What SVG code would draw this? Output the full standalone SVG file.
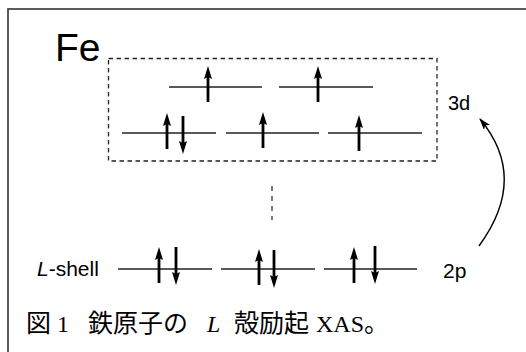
<svg xmlns="http://www.w3.org/2000/svg" xmlns:xlink="http://www.w3.org/1999/xlink" width="526" height="352" viewBox="0 0 526 352">
<style>
.lvl{stroke:#222;stroke-width:1.5;fill:none}
.shaft{stroke:#000;stroke-width:2.8;fill:none}
.lbl{font-family:"Liberation Sans",Arial,sans-serif;fill:#000}
.cap{font-family:"Liberation Serif","Noto Sans CJK JP",serif;font-size:25px;fill:#000}
.lat{font-size:24px}
</style>
<defs>
<g id="up"><line class="shaft" x1="0" y1="10" x2="0" y2="36"/><polygon points="0,0 4,13 0,11 -4,13" fill="#000"/></g>
<g id="dn"><line class="shaft" x1="0" y1="0" x2="0" y2="28"/><polygon points="0,38 4,25 0,27 -4,25" fill="#000"/></g>
<marker id="ah" markerWidth="12" markerHeight="10" refX="11" refY="4" orient="auto" markerUnits="userSpaceOnUse"><path d="M0,0 L12,4 L0,8 L3,4 Z" fill="#000"/></marker>
</defs>
<rect x="8" y="9" width="540" height="360" fill="none" stroke="#333" stroke-width="1.6"/>
<text class="lbl" x="55" y="61" font-size="39">Fe</text>
<g id="d-box"><rect x="108.5" y="58.5" width="328.5" height="102.5" fill="none" stroke="#222" stroke-width="1.3" stroke-dasharray="4.5,3.5"/></g>
<g id="d-top1"><line class="lvl" x1="169" y1="87" x2="262" y2="87"/><use xlink:href="#up" x="208" y="66"/></g>
<g id="d-top2"><line class="lvl" x1="279" y1="87" x2="373" y2="87"/><use xlink:href="#up" x="318" y="66"/></g>
<g id="d-bot1"><line class="lvl" x1="122" y1="133" x2="216" y2="133"/><use xlink:href="#up" x="167" y="113"/><use xlink:href="#dn" x="183" y="116"/></g>
<g id="d-bot2"><line class="lvl" x1="226" y1="133" x2="319" y2="133"/><use xlink:href="#up" x="263" y="112"/></g>
<g id="d-bot3"><line class="lvl" x1="328" y1="133" x2="422" y2="133"/><use xlink:href="#up" x="359" y="115"/></g>
<text class="lbl" x="448" y="110" font-size="20">3d</text>
<line x1="272" y1="186" x2="272" y2="220" stroke="#333" stroke-width="1.3" stroke-dasharray="5,5"/>
<g id="p1"><line class="lvl" x1="118" y1="269" x2="212" y2="269"/><use xlink:href="#up" x="159" y="247"/><use xlink:href="#dn" x="176" y="247"/></g>
<g id="p2"><line class="lvl" x1="221" y1="269" x2="315" y2="269"/><use xlink:href="#up" x="259" y="249"/><use xlink:href="#dn" x="274" y="250"/></g>
<g id="p3"><line class="lvl" x1="324" y1="269" x2="417" y2="269"/><use xlink:href="#up" x="354" y="247"/><use xlink:href="#dn" x="375" y="246"/></g>
<text class="lbl" x="37" y="276" font-size="21"><tspan font-style="italic">L</tspan>-shell</text>
<text class="lbl" x="443" y="278" font-size="21">2p</text>
<g id="connectors"><path d="M479,246 Q529,178 480,119" fill="none" stroke="#000" stroke-width="1.4" marker-end="url(#ah)"/></g>
<text class="cap" y="332"><tspan x="26">図</tspan><tspan x="57" class="lat">1</tspan><tspan x="88">鉄原子の</tspan><tspan x="207" class="lat" font-style="italic">L</tspan><tspan x="234">殻励起</tspan><tspan x="316" class="lat">XAS</tspan><tspan>。</tspan></text>
</svg>
